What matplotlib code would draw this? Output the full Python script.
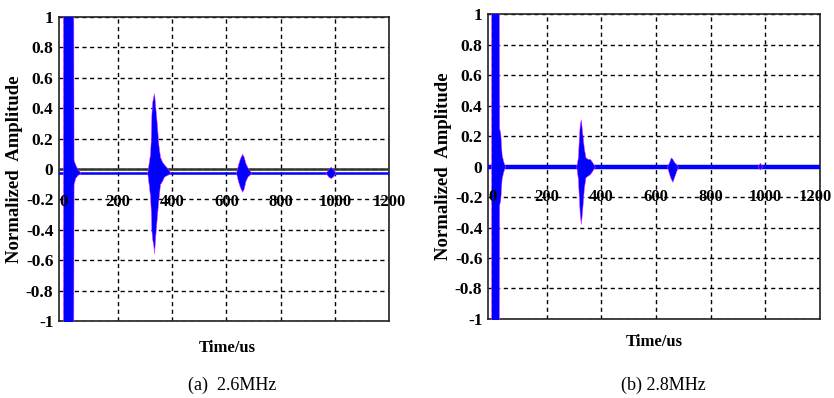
import numpy as np
import matplotlib.pyplot as plt

# tick values / labels
xtick_vals = [0, 200, 400, 600, 800, 1000, 1200]
ytick_vals = [-1, -0.8, -0.6, -0.4, -0.2, 0, 0.2, 0.4, 0.6, 0.8, 1]
ytick_labels = ['-1', '-0.8', '-0.6', '-0.4', '-0.2', '0', '0.2', '0.4', '0.6', '0.8', '1']

# (a) 2.6MHz : envelopes (time, upper, lower)
a_pulse_t = [-3, 0, 35, 36, 42, 50, 60]
a_pulse_up = [1.05, 1.05, 1.05, 0.06, 0.03, 0.0, -0.02]
a_pulse_lo = [-1.05, -1.05, -1.05, -0.1, -0.06, -0.04, -0.03]

a_echo1_t = [308, 313, 318, 321, 323, 326, 330, 333, 337, 343, 349, 355, 362, 370, 380, 392]
a_echo1_up = [-0.02, 0.04, 0.1, 0.2, 0.36, 0.44, 0.48, 0.5, 0.42, 0.3, 0.16, 0.08, 0.05, 0.03, 0.01, -0.02]
a_echo1_lo = [-0.03, -0.1, -0.18, -0.28, -0.4, -0.46, -0.5, -0.555, -0.45, -0.32, -0.2, -0.1, -0.08, -0.05, -0.04, -0.03]

a_echo2_t = [636, 643, 650, 658, 664, 670, 678, 690]
a_echo2_up = [-0.02, 0.03, 0.07, 0.1, 0.08, 0.04, 0.01, -0.02]
a_echo2_lo = [-0.03, -0.08, -0.12, -0.15, -0.13, -0.08, -0.05, -0.03]

a_echo3_t = [968, 976, 985, 993, 1002]
a_echo3_up = [-0.02, 0.0, 0.015, 0.0, -0.02]
a_echo3_lo = [-0.03, -0.05, -0.06, -0.05, -0.03]

a_base = -0.025

# (b) 2.8MHz
b_pulse_t = [-3, 0, 25, 26, 30, 35, 40, 47]
b_pulse_up = [1.05, 1.05, 1.05, 0.25, 0.22, 0.08, 0.04, 0.0]
b_pulse_lo = [-1.05, -1.05, -1.05, -0.25, -0.22, -0.08, -0.04, 0.0]

b_echo1_t = [308, 314, 318, 321, 325, 330, 336, 342, 350, 358, 366, 376]
b_echo1_up = [0, 0.06, 0.2, 0.28, 0.31, 0.22, 0.12, 0.06, 0.05, 0.05, 0.03, 0]
b_echo1_lo = [0, -0.08, -0.22, -0.32, -0.377, -0.28, -0.14, -0.07, -0.06, -0.05, -0.03, 0]

b_echo2_t = [640, 648, 654, 660, 666, 672, 680]
b_echo2_up = [0, 0.03, 0.06, 0.05, 0.03, 0.02, 0]
b_echo2_lo = [0, -0.05, -0.08, -0.1, -0.07, -0.04, 0]

b_echo3_t = [972, 980, 988]
b_echo3_up = [0, 0.025, 0]
b_echo3_lo = [0, -0.02, 0]

b_base = 0.0

serif = ['Liberation Serif', 'DejaVu Serif']

fig = plt.figure(figsize=(8.34, 3.98), dpi=100)
ax_a = fig.add_axes([0.0707, 0.1935, 0.3957, 0.7638])
ax_b = fig.add_axes([0.5851, 0.1985, 0.3981, 0.7663])


def style_axes(ax, xlim, label_y, last_shift=0):
    ax.set_xlim(*xlim)
    ax.set_ylim(-1, 1)
    ax.set_xticks(xtick_vals)
    ax.set_xticklabels([])
    ax.set_yticks(ytick_vals)
    ax.set_yticklabels(ytick_labels, family=serif, fontweight='bold', fontsize=12.5)
    ax.tick_params(axis='both', length=0)
    ax.tick_params(axis='y', pad=4)
    ax.grid(True, color='black', linestyle=(0, (3, 2.5)), linewidth=1.0)
    ax.set_axisbelow(True)
    for s in ax.spines.values():
        s.set_linewidth(1.2)
        s.set_color('#222222')
    for i, v in enumerate(xtick_vals):
        xpos = v - last_shift if i == len(xtick_vals) - 1 else v
        ax.text(xpos, label_y, str(v), ha='center', va='center', family=serif,
                fontweight='bold', fontsize=12, zorder=5, clip_on=False)
    ax.set_ylabel('Normalized  Amplitude', family=serif, fontweight='bold',
                  fontsize=13.5, labelpad=2)


def draw_env(ax, t, up, lo):
    ax.fill_between(t, lo, up, facecolor='#0000ff', edgecolor='#ff33ff',
                    linewidth=0.35, zorder=4)


style_axes(ax_a, (-18, 1200), -0.22)
ax_a.axhline(0, color='#333333', linewidth=1.8, zorder=3)
ax_a.axhline(a_base, color='#0000ff', linewidth=1.8, zorder=3)
draw_env(ax_a, a_pulse_t, a_pulse_up, a_pulse_lo)
draw_env(ax_a, a_echo1_t, a_echo1_up, a_echo1_lo)
draw_env(ax_a, a_echo2_t, a_echo2_up, a_echo2_lo)
draw_env(ax_a, a_echo3_t, a_echo3_up, a_echo3_lo)

style_axes(ax_b, (-15, 1200), -0.2, last_shift=18)
ax_b.axhline(b_base, color='#0000ff', linewidth=3.2, zorder=3)
draw_env(ax_b, b_pulse_t, b_pulse_up, b_pulse_lo)
draw_env(ax_b, b_echo1_t, b_echo1_up, b_echo1_lo)
draw_env(ax_b, b_echo2_t, b_echo2_up, b_echo2_lo)
draw_env(ax_b, b_echo3_t, b_echo3_up, b_echo3_lo)

fig.text(0.272, 0.126, 'Time/us', ha='center', va='center', family=serif,
         fontweight='bold', fontsize=12)
fig.text(0.785, 0.141, 'Time/us', ha='center', va='center', family=serif,
         fontweight='bold', fontsize=12)
fig.text(0.278, 0.033, '(a)  2.6MHz', ha='center', va='center', family=serif,
         fontsize=13)
fig.text(0.795, 0.033, '(b) 2.8MHz', ha='center', va='center', family=serif,
         fontsize=13)

fig.savefig('out.png', dpi=100)
